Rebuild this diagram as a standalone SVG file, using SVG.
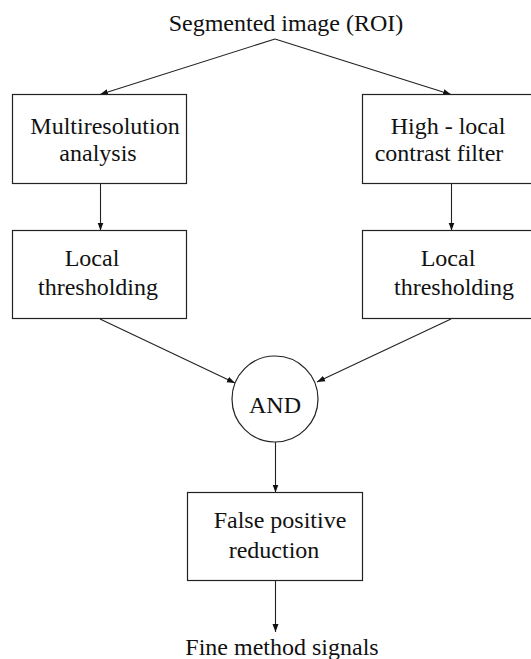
<svg xmlns="http://www.w3.org/2000/svg" width="531" height="659" viewBox="0 0 531 659">
<defs>
<style>
.box{fill:#fff;stroke:#222;stroke-width:1.2}
.t{font-size:24px;fill:#111;text-anchor:middle}
.c{fill:none;stroke:#222;stroke-width:1.1}
</style>
<marker id="ah" markerUnits="userSpaceOnUse" markerWidth="9" markerHeight="7" refX="8" refY="3.5" orient="auto">
<path d="M0,0.5 L8,3.5 L0,6.5 Z" fill="#111"/>
</marker>
</defs>
<rect width="531" height="659" fill="#fff"/>
<g id="connectors">
<line class="c" x1="275" y1="39" x2="100" y2="94.5" marker-end="url(#ah)"/>
<line class="c" x1="275" y1="39" x2="451" y2="94.5" marker-end="url(#ah)"/>
<line class="c" x1="100.5" y1="184" x2="100.5" y2="230.5" marker-end="url(#ah)"/>
<line class="c" x1="451.5" y1="184" x2="451.5" y2="230.5" marker-end="url(#ah)"/>
<line class="c" x1="100" y1="319" x2="235" y2="383" marker-end="url(#ah)"/>
<line class="c" x1="451" y1="319" x2="317" y2="382" marker-end="url(#ah)"/>
<line class="c" x1="275.5" y1="442" x2="275.5" y2="492.5" marker-end="url(#ah)"/>
<line class="c" x1="275.5" y1="581" x2="275.5" y2="632" marker-end="url(#ah)"/>
</g>
<g font-family="'Liberation Serif', 'Times New Roman', 'DejaVu Serif', serif">
<g id="title">
<text class="t" x="286" y="31">Segmented image (ROI)</text>
</g>
<g id="multires">
<rect class="box" x="12.5" y="94.5" width="174" height="89"/>
<text class="t" x="105" y="134">Multiresolution</text>
<text class="t" x="98" y="161">analysis</text>
</g>
<g id="highlocal">
<rect class="box" x="362.5" y="94.5" width="175" height="89"/>
<text class="t" x="448" y="134">High - local</text>
<text class="t" x="439" y="161">contrast filter</text>
</g>
<g id="thresh-left">
<rect class="box" x="12.5" y="230.5" width="174" height="88"/>
<text class="t" x="92" y="266">Local</text>
<text class="t" x="98" y="295">thresholding</text>
</g>
<g id="thresh-right">
<rect class="box" x="362.5" y="230.5" width="175" height="88"/>
<text class="t" x="448" y="266">Local</text>
<text class="t" x="454" y="295">thresholding</text>
</g>
<g id="and">
<circle class="box" cx="275" cy="399" r="43"/>
<text class="t" x="275" y="413">AND</text>
</g>
<g id="fpr">
<rect class="box" x="187.5" y="492.5" width="175" height="88"/>
<text class="t" x="280" y="528">False positive</text>
<text class="t" x="274" y="558">reduction</text>
</g>
<g id="output">
<text class="t" x="282" y="655">Fine method signals</text>
</g>
</g>
</svg>
